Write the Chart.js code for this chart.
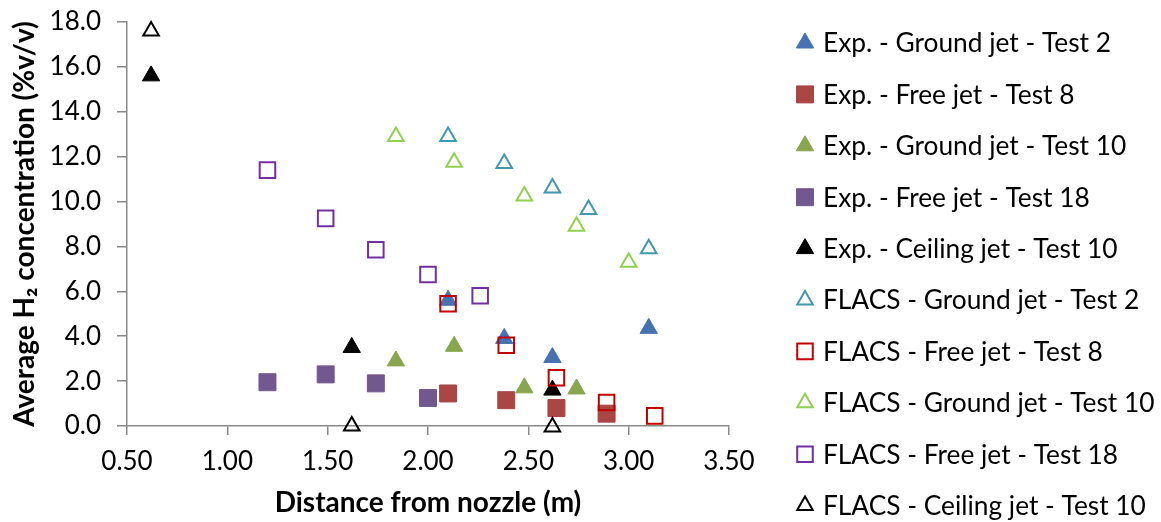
<!DOCTYPE html>
<html>
<head>
<meta charset="utf-8">
<script src="https://cdn.jsdelivr.net/npm/chart.js@4/dist/chart.umd.min.js"></script>
<style>
  html, body { margin: 0; padding: 0; background: #fff; }
  #wrap { width: 1161px; height: 522px; }
</style>
</head>
<body>
<div id="wrap"><canvas id="chart"></canvas></div>
<script>
// series labels, in the order of the legend
const seriesNames = [
  'Exp. - Ground jet - Test 2',
  'Exp. - Free jet - Test 8',
  'Exp. - Ground jet - Test 10',
  'Exp. - Free jet - Test 18',
  'Exp. - Ceiling jet - Test 10',
  'FLACS - Ground jet - Test 2',
  'FLACS - Free jet - Test 8',
  'FLACS - Ground jet - Test 10',
  'FLACS - Free jet - Test 18',
  'FLACS - Ceiling jet - Test 10'
];

// distance from nozzle (m) / average H2 concentration (%v/v)
const expGround2X = [2.10, 2.38, 2.62, 3.10];
const expGround2Y = [5.6, 3.9, 3.05, 4.35];
const expFree8X = [2.10, 2.39, 2.64, 2.89];
const expFree8Y = [1.45, 1.15, 0.8, 0.55];
const expGround10X = [1.84, 2.13, 2.48, 2.74];
const expGround10Y = [2.9, 3.55, 1.7, 1.65];
const expFree18X = [1.20, 1.49, 1.74, 2.00];
const expFree18Y = [1.95, 2.3, 1.9, 1.25];
const expCeiling10X = [0.62, 1.62, 2.62];
const expCeiling10Y = [15.6, 3.5, 1.6];
const flacsGround2X = [2.10, 2.38, 2.62, 2.80, 3.10];
const flacsGround2Y = [12.9, 11.7, 10.6, 9.65, 7.9];
const flacsFree8X = [2.10, 2.39, 2.64, 2.89, 3.13];
const flacsFree8Y = [5.45, 3.6, 2.15, 1.05, 0.45];
const flacsGround10X = [1.84, 2.13, 2.48, 2.74, 3.00];
const flacsGround10Y = [12.9, 11.75, 10.25, 8.9, 7.3];
const flacsFree18X = [1.20, 1.49, 1.74, 2.00, 2.26];
const flacsFree18Y = [11.4, 9.25, 7.85, 6.75, 5.8];
const flacsCeiling10X = [0.62, 1.62, 2.62];
const flacsCeiling10Y = [17.6, 0.0, -0.05];

// axis ticks
const xTicks = [0.5, 1.0, 1.5, 2.0, 2.5, 3.0, 3.5];
const yTicks = [0, 2, 4, 6, 8, 10, 12, 14, 16, 18];

const FONT = 'Lato, "Open Sans", sans-serif';

function pts(xs, ys) { return xs.map((x, i) => ({ x: x, y: ys[i] })); }

// style per series: filled experiment markers, hollow FLACS markers
const styles = [
  { shape: 'triangle', fill: '#4672B2', line: '#4672B2', w: 1, r: 10 },
  { shape: 'rect', fill: '#AA4643', line: '#AA4643', w: 1, r: 12 },
  { shape: 'triangle', fill: '#89A54E', line: '#89A54E', w: 1, r: 10 },
  { shape: 'rect', fill: '#71588F', line: '#71588F', w: 1, r: 12 },
  { shape: 'triangle', fill: '#000000', line: '#000000', w: 1, r: 10 },
  { shape: 'triangle', fill: 'rgba(0,0,0,0)', line: '#4198AF', w: 2, r: 9 },
  { shape: 'rect', fill: 'rgba(0,0,0,0)', line: '#C00000', w: 2, r: 11 },
  { shape: 'triangle', fill: 'rgba(0,0,0,0)', line: '#92D050', w: 2, r: 9 },
  { shape: 'rect', fill: 'rgba(0,0,0,0)', line: '#7030A0', w: 2, r: 11 },
  { shape: 'triangle', fill: 'rgba(0,0,0,0)', line: '#000000', w: 2, r: 9 }
];

const seriesData = [
  pts(expGround2X, expGround2Y),
  pts(expFree8X, expFree8Y),
  pts(expGround10X, expGround10Y),
  pts(expFree18X, expFree18Y),
  pts(expCeiling10X, expCeiling10Y),
  pts(flacsGround2X, flacsGround2Y),
  pts(flacsFree8X, flacsFree8Y),
  pts(flacsGround10X, flacsGround10Y),
  pts(flacsFree18X, flacsFree18Y),
  pts(flacsCeiling10X, flacsCeiling10Y)
];

const datasets = seriesNames.map((name, i) => ({
  label: name,
  data: seriesData[i],
  pointStyle: styles[i].shape,
  pointRadius: styles[i].r,
  pointHoverRadius: styles[i].r,
  backgroundColor: styles[i].fill,
  borderColor: styles[i].line,
  pointBorderWidth: styles[i].w,
  clip: false,                    // markers on the axis stick out past it
  order: seriesNames.length - i   // later series on top, like the original
}));

// side legend drawn by hand: the built-in one wraps into two columns at this spacing
const sideLegend = {
  id: 'sideLegend',
  afterDraw(chart) {
    const ctx = chart.ctx;
    ctx.save();
    ctx.font = '26.3px ' + FONT;
    ctx.textBaseline = 'middle';
    ctx.textAlign = 'left';
    chart.data.datasets.forEach((ds, i) => {
      const y = 43 + i * 51.4;
      ctx.fillStyle = ds.backgroundColor;
      ctx.strokeStyle = ds.borderColor;
      ctx.lineWidth = ds.pointBorderWidth;
      Chart.helpers.drawPoint(ctx, { pointStyle: ds.pointStyle, radius: ds.pointRadius, rotation: 0, borderWidth: ds.pointBorderWidth }, 805, y);
      ctx.fillStyle = '#000';
      ctx.fillText(ds.label, 823, y + 1);
    });
    ctx.restore();
  }
};

new Chart(document.getElementById('chart'), {
  type: 'scatter',
  data: { datasets: datasets },
  plugins: [sideLegend],
  options: {
    responsive: true,
    maintainAspectRatio: false,
    animation: false,
    layout: { padding: { top: 22, right: 432, bottom: 0, left: 0 } },
    plugins: { legend: { display: false }, tooltip: { enabled: false } },
    scales: {
      x: {
        type: 'linear',
        min: 0.5, max: 3.5,
        afterBuildTicks: (s) => { s.ticks = xTicks.map(v => ({ value: v })); },
        afterFit: (s) => { s.height = 96; },
        ticks: { color: '#000', font: { family: FONT, size: 26 }, padding: 11,
                 callback: (v) => Number(v).toFixed(2) },
        grid: { display: true, drawOnChartArea: false, drawTicks: true, tickLength: 9, color: '#898989', lineWidth: 1.5 },
        border: { color: '#898989', width: 1.5 },
        title: { display: true, text: 'Distance from nozzle (m)', color: '#000',
                 font: { family: FONT, size: 28, weight: 'bold' }, padding: { top: 0, bottom: 2 } }
      },
      y: {
        type: 'linear',
        min: 0, max: 18,
        afterBuildTicks: (s) => { s.ticks = yTicks.map(v => ({ value: v })); },
        // fixed width, and no extra top room from the label padding
        afterFit: (s) => { s.width = 127; s.paddingTop = 0; s.paddingBottom = 0; },
        ticks: { color: '#000', font: { family: FONT, size: 26 }, padding: 16,
                 callback: (v) => Number(v).toFixed(1) },
        grid: { display: true, drawOnChartArea: false, drawTicks: true, tickLength: 10, color: '#898989', lineWidth: 1.5 },
        border: { color: '#898989', width: 1.5 },
        title: { display: true, text: 'Average H\u2082 concentration (%v/v)', color: '#000',
                 font: { family: FONT, size: 28, weight: 'bold' }, padding: { top: 8, bottom: 0 } }
      }
    }
  }
});
</script>
</body>
</html>
